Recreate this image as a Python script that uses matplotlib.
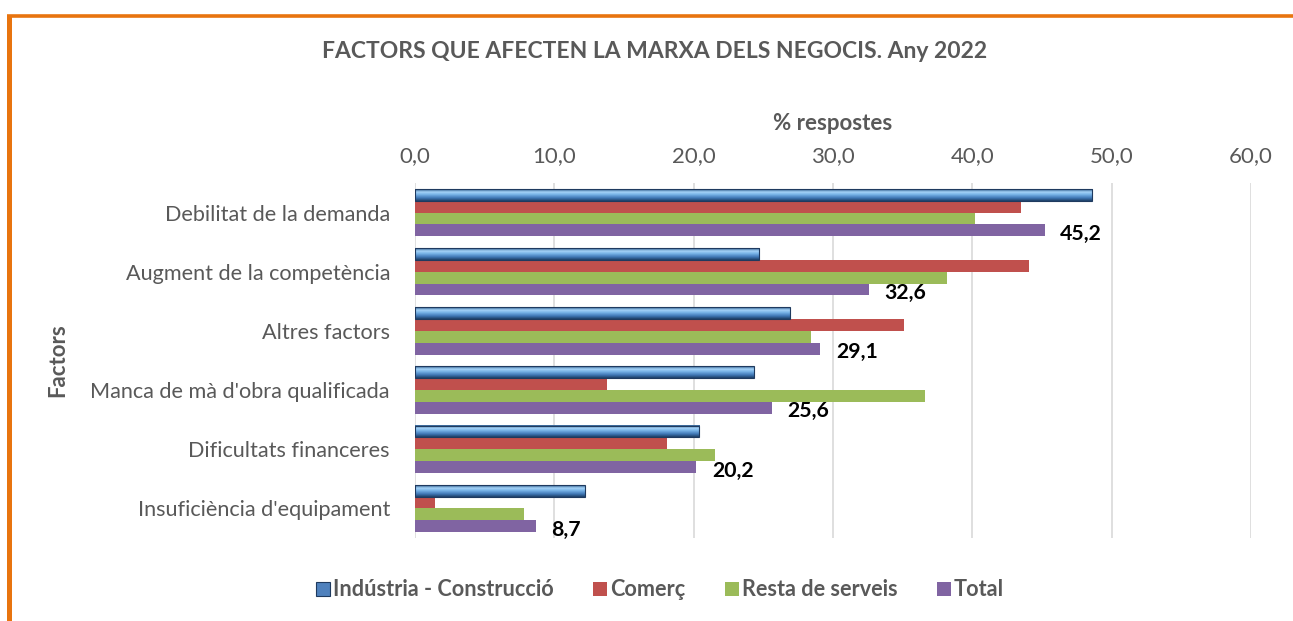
import numpy as np
import matplotlib
matplotlib.use("Agg")
import matplotlib.pyplot as plt
from matplotlib.colors import LinearSegmentedColormap
from matplotlib.patches import Rectangle
from matplotlib.lines import Line2D

plt.rcParams['font.family'] = ['Lato', 'DejaVu Sans']

# data
factors = ["Debilitat de la demanda", "Augment de la competència", "Altres factors",
           "Manca de mà d'obra qualificada", "Dificultats financeres",
           "Insuficiència d'equipament"]
industria = [48.6, 24.7, 26.9, 24.3, 20.4, 12.2]
comerc = [43.5, 44.1, 35.1, 13.8, 18.1, 1.4]
resta = [40.2, 38.2, 28.4, 36.6, 21.5, 7.8]
total = [45.2, 32.6, 29.1, 25.6, 20.2, 8.7]
series_names = ["Indústria - Construcció", "Comerç", "Resta de serveis", "Total"]
xticks = [0, 10, 20, 30, 40, 50, 60]

grey = "#595959"
colors = ["#4F81BD", "#C0504D", "#9BBB59", "#8064A2"]

fig = plt.figure(figsize=(12.93, 6.21), dpi=100)
W, H = 1293, 621

# orange frame (top and left edges visible)
fig.add_artist(Line2D([8.5 / W, 8.5 / W], [0, 1 - 15.5 / H], color="#E8740F", lw=3.6,
                      transform=fig.transFigure, solid_capstyle="butt"))
fig.add_artist(Line2D([6.7 / W, 1], [1 - 15.5 / H, 1 - 15.5 / H], color="#E8740F", lw=2.6,
                      transform=fig.transFigure, solid_capstyle="butt"))

ax = fig.add_axes([415 / W, 1 - 538 / H, (1251 - 415) / W, (538 - 183) / H])

y = np.arange(len(factors))
h = 0.2
offsets = [-0.3, -0.1, 0.1, 0.3]

# bevelled blue bars for Indústria - Construcció
blue_cmap = LinearSegmentedColormap.from_list(
    "bevel", [(0.0, "#2E5C8F"), (0.25, "#A5D3F7"), (0.45, "#79B4E8"),
              (0.75, "#3F77B5"), (1.0, "#1E3F66")])
grad = np.linspace(0, 1, 64).reshape(-1, 1)
for yi, v in zip(y + offsets[0], industria):
    ax.imshow(grad, cmap=blue_cmap, aspect="auto",
              extent=(0, v, yi + h / 2, yi - h / 2), zorder=3)
    ax.add_patch(Rectangle((0, yi - h / 2), v, h, fill=False, edgecolor="#1F3A5F",
                           lw=0.8, zorder=4))

for vals, off, col in zip([comerc, resta, total], offsets[1:], colors[1:]):
    ax.barh(y + off, vals, height=h, color=col, zorder=3)

for yi, v in zip(y + offsets[3], total):
    ax.text(v + 1.1, yi + 0.06, f"{v:.1f}".replace(".", ","), ha="left", va="center",
            fontsize=15.3, fontweight="bold", color="black", zorder=5)

ax.set_xlim(0, 60)
ax.set_ylim(len(factors) - 0.5, -0.5)
ax.set_xticks(xticks)
ax.set_xticklabels([f"{t:.1f}".replace(".", ",") for t in xticks])
ax.xaxis.tick_top()
ax.xaxis.set_label_position("top")
ax.tick_params(axis="x", length=0, pad=12, labelsize=16, labelcolor=grey)
ax.set_yticks(y)
ax.set_yticklabels(factors)
ax.tick_params(axis="y", length=0, pad=18, labelsize=15.6, labelcolor=grey)
ax.set_xlabel("% respostes", fontsize=16, fontweight="bold", color=grey, labelpad=12)
ax.grid(axis="x", color="#D9D9D9", lw=1.2, zorder=0)
for s in ax.spines.values():
    s.set_visible(False)

fig.text(58 / W, 1 - 360 / H, "Factors", rotation=90, ha="center", va="center",
         fontsize=16, fontweight="bold", color=grey)

fig.text(655 / W, 1 - 52 / H, "FACTORS QUE AFECTEN LA MARXA DELS NEGOCIS. Any 2022",
         ha="center", va="center", fontsize=16.5, fontweight="bold", color=grey)

handles = [Rectangle((0, 0), 1, 1, facecolor=colors[0], edgecolor="#1F3A5F", lw=0.8)]
handles += [Rectangle((0, 0), 1, 1, facecolor=c) for c in colors[1:]]
leg = fig.legend(handles, series_names, loc="center", bbox_to_anchor=(660 / W, 1 - 590 / H),
                 ncol=4, frameon=False, handlelength=0.65, handleheight=0.65,
                 handletextpad=0.15, columnspacing=1.8,
                 prop={"size": 15.6, "weight": "bold"})
for t in leg.get_texts():
    t.set_color(grey)

fig.savefig("out.png", dpi=100, facecolor="white")
